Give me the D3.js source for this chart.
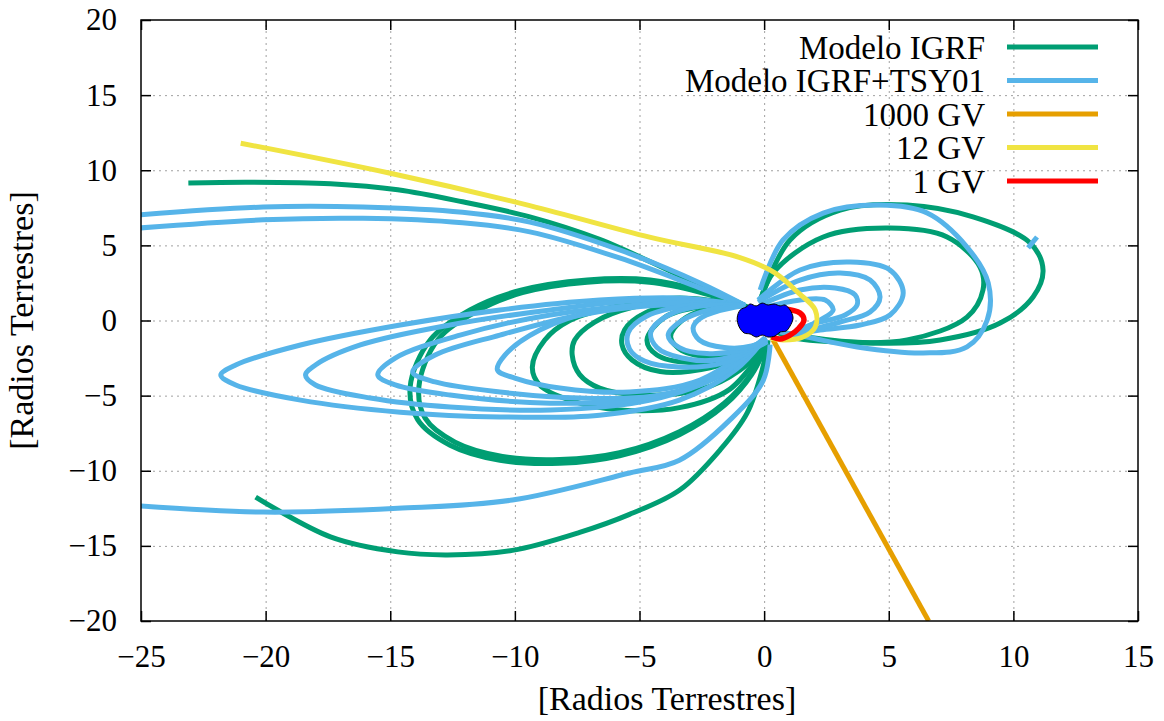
<!DOCTYPE html>
<html>
<head>
<meta charset="utf-8">
<script src="https://cdn.jsdelivr.net/npm/d3@7"></script>
<style>
  body { margin: 0; background: #fff; }
  text { font-family: "Liberation Serif", "Times New Roman", serif; fill: #000; }
</style>
</head>
<body>
<div id="container"></div>
<script>
/* CONSTANTS AND GLOBALS */
const width = 1164,
  height = 721,
  margin = { top: 20, right: 26, bottom: 100, left: 141 };

/* DATA (Earth radii) */
const xTicks = [-25, -20, -15, -10, -5, 0, 5, 10, 15];
const yTicks = [-20, -15, -10, -5, 0, 5, 10, 15, 20];

const legendNames = ["Modelo IGRF", "Modelo IGRF+TSY01", "1000 GV", "12 GV", "1 GV"];
const legendColors = ["#009e73", "#56b4e9", "#e69f00", "#f0e442", "#ff0000"];

// IGRF only trajectories
const igrfTracks = [
  [[-23.1,9.15],[-20.7,9.2],[-17.4,9.1],[-14.7,8.7],[-12.1,7.9],[-9.4,6.9],[-6.6,5.4],[-3.4,3.0],[-0.76,1.0]],
  [[-0.68,0.9],[-2.57,2.0],[-4.57,2.7],[-7.1,2.7],[-9.8,2.0],[-11.8,0.7],[-13.4,-1.3],[-14.2,-4.4],[-13.9,-6.6],[-12.6,-8.3],[-10.6,-9.3],[-8.2,-9.5],[-5.8,-9.0],[-3.4,-7.6],[-1.56,-5.6],[-0.5,-3.6],[0.12,-1.5]],
  [[-0.68,0.9],[-2.6,1.9],[-4.6,2.55],[-7.1,2.55],[-9.7,1.85],[-11.6,0.55],[-13.1,-1.3],[-13.85,-4.4],[-13.6,-6.5],[-12.4,-8.1],[-10.5,-9.05],[-8.2,-9.25],[-5.8,-8.8],[-3.4,-7.4],[-1.6,-5.5],[-0.5,-3.5],[0.12,-1.5]],
  [[-0.76,1.0],[-3.4,1.5],[-5.8,1.0],[-7.8,0.0],[-8.8,-1.3],[-9.3,-3.1],[-9.0,-4.3],[-7.8,-5.3],[-5.8,-5.95],[-3.4,-5.8],[-1.4,-4.6],[0.12,-1.6]],
  [[-0.76,1.0],[-2.97,1.36],[-5.25,0.9],[-6.8,-0.1],[-7.6,-1.3],[-7.7,-2.3],[-7.4,-3.6],[-6.6,-4.5],[-5.0,-4.95],[-2.57,-4.6],[-0.96,-3.3],[0.12,-1.5]],
  [[-0.76,1.0],[-2.97,1.16],[-4.77,0.5],[-5.6,-0.63],[-5.7,-1.63],[-5.3,-2.63],[-4.17,-3.4],[-2.17,-3.15],[-0.76,-2.3],[0.12,-1.43]],
  [[-0.76,1.0],[-2.6,0.9],[-4.0,0.2],[-4.7,-1.3],[-4.3,-2.3],[-3.0,-2.8],[-1.4,-2.5],[0.12,-1.4]],
  [[-0.76,1.0],[-2.2,0.8],[-3.3,0.0],[-3.75,-1.1],[-3.3,-2.0],[-2.0,-2.4],[-0.6,-2.0],[0.12,-1.3]],
  [[-20.4,-11.75],[-17.4,-14.4],[-14.7,-15.4],[-12.7,-15.6],[-10.1,-15.3],[-7.4,-14.1],[-5.4,-12.9],[-3.4,-11.3],[-1.76,-8.6],[-0.68,-6.15],[-0.08,-3.3],[0.16,-1.3]],
  [[-0.16,1.36],[1.04,5.36],[3.05,7.35],[5.74,7.68],[8.38,6.89],[10.67,5.16],[11.19,3.36],[10.79,1.56],[9.47,-0.17],[7.06,-1.3],[4.37,-1.5],[1.72,-1.1],[0.36,-0.63]],
  [[-0.16,1.23],[0.36,3.16],[2.37,5.56],[5.05,6.15],[7.34,5.56],[8.66,3.56],[8.78,2.03],[8.14,0.23],[5.74,-1.3],[3.05,-1.43],[1.04,-1.1],[0.36,-0.63]]
];

// IGRF + TSY01 trajectories
const tsyTracks = [
  [[-25.5,6.98],[-20.1,7.55],[-16.1,7.55],[-12.1,7.2],[-9.4,6.55],[-5.8,4.7],[-2.57,2.5],[-0.76,1.0]],
  [[-25.5,6.1],[-20.1,6.7],[-16.1,6.8],[-12.1,6.5],[-9.4,5.9],[-5.8,4.16],[-2.57,2.16],[-0.76,1.0]],
  [[-25.5,-12.28],[-20.1,-12.75],[-14.7,-12.5],[-10.1,-11.95],[-5.4,-10.15],[-3.4,-9.3],[-1.36,-6.6],[-0.04,-4.0],[0.24,-1.6]],
  [[-0.76,1.0],[-3.4,1.5],[-6.6,1.36],[-10.6,0.7],[-14.6,-0.3],[-18.6,-1.63],[-21.2,-2.96],[-21.8,-3.63],[-21.2,-4.29],[-18.6,-5.3],[-14.6,-6.1],[-10.6,-6.42],[-6.6,-6.3],[-3.4,-5.3],[-1.16,-3.3],[0.04,-1.16]],
  [[-0.76,1.0],[-4.57,1.36],[-8.58,0.7],[-12.6,-0.3],[-16.2,-1.63],[-18.0,-2.96],[-18.4,-3.63],[-18.0,-4.29],[-15.8,-5.16],[-12.6,-5.76],[-8.58,-5.96],[-4.57,-5.3],[-1.76,-3.63],[0.04,-1.16]],
  [[-0.76,1.0],[-4.57,1.03],[-8.58,0.37],[-12.2,-0.97],[-14.8,-2.5],[-15.5,-3.63],[-14.8,-4.29],[-12.6,-4.96],[-8.58,-5.5],[-4.57,-5.16],[-1.76,-3.63],[0.04,-1.16]],
  [[-0.76,1.0],[-4.17,1.03],[-7.38,0.37],[-10.6,-0.97],[-13.2,-2.3],[-14.1,-3.43],[-13.2,-4.09],[-10.6,-4.76],[-7.38,-5.16],[-4.17,-4.96],[-1.76,-3.63],[0.04,-1.16]],
  [[-0.76,1.0],[-3.4,1.16],[-6.6,0.7],[-9.0,-0.63],[-10.4,-2.3],[-10.7,-3.29],[-10.0,-3.83],[-8.2,-4.49],[-5.4,-4.76],[-2.57,-3.96],[0.04,-1.16]],
  [[-0.76,1.0],[-3.0,1.0],[-4.7,0.3],[-5.45,-0.8],[-5.4,-1.9],[-4.8,-2.7],[-3.4,-3.1],[-1.6,-2.8],[0.12,-1.4]],
  [[-0.76,1.0],[-2.6,0.95],[-3.9,0.3],[-4.55,-0.8],[-4.3,-1.8],[-3.3,-2.5],[-1.8,-2.6],[0.12,-1.4]],
  [[-0.76,1.0],[-2.2,0.7],[-3.3,0.0],[-3.85,-0.97],[-3.4,-1.8],[-2.3,-2.2],[-1.0,-2.0],[0.12,-1.3]],
  [[-0.76,1.0],[-1.8,0.65],[-2.6,0.1],[-2.85,-0.5],[-2.6,-1.3],[-1.6,-1.8],[-0.5,-1.7],[0.12,-1.2]],
  [[-0.16,2.03],[0.76,5.36],[2.37,7.15],[4.65,7.68],[6.54,7.15],[8.14,4.89],[8.99,2.5],[8.95,0.03],[8.14,-1.76],[6.38,-2.16],[3.73,-1.76],[1.72,-1.1],[0.64,-0.77]],
  [[10.59,4.83],[10.95,5.56]],
  [[-0.24,1.36],[1.44,3.36],[3.45,3.89],[5.05,3.36],[5.58,1.83],[5.05,0.37],[3.85,-0.3],[2.25,-0.63],[0.84,-0.97]],
  [[-0.24,1.23],[1.44,2.69],[3.05,3.16],[4.25,2.69],[4.65,1.56],[4.25,0.57],[3.05,-0.1],[1.04,-0.97]],
  [[-0.16,1.03],[1.44,2.03],[2.85,2.16],[3.65,1.7],[3.73,1.03],[3.25,0.37],[1.85,-0.3],[1.04,-0.97]],
  [[-0.08,0.83],[1.44,1.36],[2.45,1.36],[2.77,0.7],[2.25,0.03],[1.24,-0.77]]
];

const track1000GV = [[0.36,-1.3],[6.6,-20.0]];
const track12GV = [[-21.0,11.8],[-15.0,9.8],[-9.4,7.65],[-4.6,5.55],[-1.0,4.2],[0.4,3.2],[1.4,1.8],[2.05,0.7],[2.05,-0.43],[1.56,-1.1],[0.76,-1.3],[0.24,-1.16]];
const track1GV = [[0.7,0.8],[1.44,0.5],[1.6,0.03],[1.4,-0.5],[1.04,-0.97],[0.64,-1.23],[0.3,-1.1]];

const earthOutline = [[-1.08,0.17],[-0.96,0.7],[-0.72,0.9],[-0.56,1.1],[-0.32,0.97],[-0.08,1.16],[0.16,1.03],[0.4,1.1],[0.64,0.97],[0.84,1.03],[1.04,0.7],[1.16,0.17],[1.04,-0.37],[0.88,-0.7],[0.64,-0.77],[0.44,-1.03],[0.16,-1.1],[-0.08,-0.97],[-0.32,-1.1],[-0.56,-0.9],[-0.8,-0.83],[-1.0,-0.43]];

/* SCALES */
const xScale = d3.scaleLinear()
  .domain([-25, 15])
  .range([margin.left, width - margin.right])

const yScale = d3.scaleLinear()
  .domain([-20, 20])
  .range([height - margin.bottom, margin.top])

const x0 = margin.left, x1 = width - margin.right,
  y0 = margin.top, y1 = height - margin.bottom;

/* CREATE SVG ELEMENT */
const svg = d3.select("#container")
  .append("svg")
  .attr("width", width)
  .attr("height", height)

svg.append("defs").append("clipPath")
  .attr("id", "plotclip")
  .append("rect")
  .attr("x", x0).attr("y", y0)
  .attr("width", x1 - x0).attr("height", y1 - y0)

// GRID
svg.append("g")
  .attr("class", "x-grid")
  .attr("transform", `translate(0, ${y1})`)
  .call(d3.axisBottom(xScale).tickValues(xTicks.slice(1, -1)).tickSize(-(y1 - y0)).tickFormat(""))
  .call(g => g.select(".domain").remove())
  .call(g => g.selectAll("line").attr("stroke", "#a0a0a0").attr("stroke-dasharray", "2,4"))

svg.append("g")
  .attr("class", "y-grid")
  .attr("transform", `translate(${x0}, 0)`)
  .call(d3.axisLeft(yScale).tickValues(yTicks.slice(1, -1)).tickSize(-(x1 - x0)).tickFormat(""))
  .call(g => g.select(".domain").remove())
  .call(g => g.selectAll("line").attr("stroke", "#a0a0a0").attr("stroke-dasharray", "2,4"))

// LINE GENERATOR FUNCTION
const lineGen = d3.line()
  .x(d => xScale(d[0]))
  .y(d => yScale(d[1]))
  .curve(d3.curveCatmullRom.alpha(0.5))

const plot = svg.append("g").attr("clip-path", "url(#plotclip)")

// DRAW LINES
plot.selectAll(".igrf")
  .data(igrfTracks)
  .join("path")
  .attr("class", "igrf")
  .attr("fill", "none")
  .attr("stroke", legendColors[0])
  .attr("stroke-width", 5)
  .attr("stroke-linejoin", "round")
  .attr("d", d => lineGen(d))

plot.selectAll(".tsy")
  .data(tsyTracks)
  .join("path")
  .attr("class", "tsy")
  .attr("fill", "none")
  .attr("stroke", legendColors[1])
  .attr("stroke-width", 5)
  .attr("stroke-linejoin", "round")
  .attr("d", d => lineGen(d))

plot.append("path")
  .attr("fill", "none")
  .attr("stroke", legendColors[2])
  .attr("stroke-width", 5)
  .attr("d", lineGen(track1000GV))

plot.append("path")
  .attr("fill", "none")
  .attr("stroke", legendColors[3])
  .attr("stroke-width", 5)
  .attr("d", lineGen(track12GV))

plot.append("path")
  .attr("fill", "none")
  .attr("stroke", legendColors[4])
  .attr("stroke-width", 5.5)
  .attr("d", lineGen(track1GV))

// EARTH
plot.append("path")
  .attr("fill", "#0000ff")
  .attr("stroke", "#000")
  .attr("stroke-width", 1)
  .attr("d", d3.line().x(d => xScale(d[0])).y(d => yScale(d[1])).curve(d3.curveCatmullRomClosed.alpha(0.5))(earthOutline))

// FRAME
svg.append("rect")
  .attr("x", x0).attr("y", y0)
  .attr("width", x1 - x0).attr("height", y1 - y0)
  .attr("fill", "none")
  .attr("stroke", "#000")
  .attr("stroke-width", 1.5)

// BUILD AND CALL AXES (inward ticks, mirrored)
const tickStyle = g => {
  g.select(".domain").remove()
  g.selectAll("line").attr("stroke", "#000").attr("stroke-width", 1.5)
}
const fmt = d => d < 0 ? "\u2212" + Math.abs(d) : String(d)

svg.append("g")
  .attr("class", "x-axis")
  .attr("transform", `translate(0, ${y1})`)
  .call(d3.axisBottom(xScale).tickValues(xTicks).tickSizeInner(-10).tickSizeOuter(0).tickPadding(24).tickFormat(fmt))
  .call(tickStyle)
  .call(g => g.selectAll("text").style("font-size", "31px"))

svg.append("g")
  .attr("transform", `translate(0, ${y0})`)
  .call(d3.axisTop(xScale).tickValues(xTicks).tickSizeInner(-10).tickSizeOuter(0).tickFormat(""))
  .call(tickStyle)

svg.append("g")
  .attr("class", "y-axis")
  .attr("transform", `translate(${x0}, 0)`)
  .call(d3.axisLeft(yScale).tickValues(yTicks).tickSizeInner(-10).tickSizeOuter(0).tickPadding(24).tickFormat(fmt))
  .call(tickStyle)
  .call(g => g.selectAll("text").style("font-size", "31px"))

svg.append("g")
  .attr("transform", `translate(${x1}, 0)`)
  .call(d3.axisRight(yScale).tickValues(yTicks).tickSizeInner(-10).tickSizeOuter(0).tickFormat(""))
  .call(tickStyle)

// AXIS LABELS
svg.append("text")
  .attr("x", 667)
  .attr("y", 710)
  .attr("text-anchor", "middle")
  .style("font-size", "34px")
  .text("[Radios Terrestres]")

svg.append("text")
  .attr("transform", `translate(33, ${(y0 + y1) / 2}) rotate(-90)`)
  .attr("text-anchor", "middle")
  .style("font-size", "34px")
  .text("[Radios Terrestres]")

// LEGEND
const legend = svg.append("g").attr("class", "legend")
const rows = legend.selectAll("g")
  .data(legendNames)
  .join("g")
  .attr("transform", (d, i) => `translate(0, ${47 + i * 33.5})`)

rows.append("text")
  .attr("x", 985)
  .attr("dy", "0.35em")
  .attr("text-anchor", "end")
  .style("font-size", "33px")
  .text(d => d)

rows.append("line")
  .attr("x1", 1007).attr("x2", 1098)
  .attr("stroke", (d, i) => legendColors[i])
  .attr("stroke-width", 5)
</script>
</body>
</html>
